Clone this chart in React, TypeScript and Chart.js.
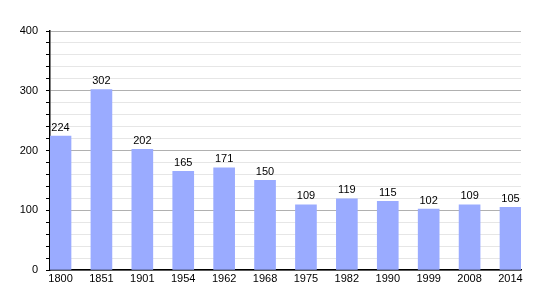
import React, { useEffect, useRef } from "react";
import { Chart, registerables } from "chart.js";

Chart.register(...registerables);

const years = ["1800", "1851", "1901", "1954", "1962", "1968", "1975", "1982", "1990", "1999", "2008", "2014"];
const population = [224, 302, 202, 165, 171, 150, 109, 119, 115, 102, 109, 105];
const yMax = 400;
const yStep = 20;
const majorStep = 100;

const FONT = "'Liberation Sans', Arial, sans-serif";

const valueLabels = {
  id: "valueLabels",
  afterDatasetsDraw(chart: any) {
    const ctx = chart.ctx;
    const meta = chart.getDatasetMeta(0);
    ctx.save();
    ctx.font = `11px ${FONT}`;
    ctx.fillStyle = "#000";
    ctx.textAlign = "center";
    ctx.textBaseline = "bottom";
    meta.data.forEach((bar: any, i: number) => {
      ctx.fillText(String(population[i]), bar.x, bar.y - 3);
    });
    ctx.restore();
  },
};

export default function App() {
  const ref = useRef<HTMLCanvasElement | null>(null);
  useEffect(() => {
    if (!ref.current) return;
    const half = 0.257;
    const chart = new Chart(ref.current, {
      type: "bar",
      data: {
        datasets: [
          {
            data: population.map((v, i) => ({ x: i, y: v })),
            backgroundColor: "#9aabff",
            borderWidth: 0,
            barThickness: 21,
          },
        ],
      },
      options: {
        animation: false,
        responsive: false,
        maintainAspectRatio: false,
        layout: { padding: { left: 0, right: 29, top: 31, bottom: 0 } },
        plugins: { legend: { display: false }, tooltip: { enabled: false } },
        scales: {
          x: {
            type: "linear",
            offset: false,
            min: -half,
            max: years.length - 1 + half,
            afterBuildTicks(scale: any) {
              scale.ticks = years.map((_, i) => ({ value: i }));
            },
            afterFit(scale: any) {
              scale.height = 30;
            },
            grid: { display: false, drawTicks: false, offset: false },
            border: { display: true, color: "#000", width: 1.5 },
            ticks: {
              autoSkip: false,
              maxRotation: 0,
              padding: 2,
              color: "#000",
              font: { family: FONT, size: 11 },
              callback: (v: any) => years[Math.round(Number(v))] ?? "",
            },
          },
          y: {
            min: 0,
            max: yMax,
            afterFit(scale: any) {
              scale.width = 50;
            },
            grid: {
              color: (c: any) => (c.tick && c.tick.value % majorStep === 0 ? "#b0b0b0" : "#e6e6e6"),
              tickColor: "#000",
              tickLength: 4,
              lineWidth: 1,
            },
            border: { display: true, color: "#000", width: 1.5 },
            ticks: {
              stepSize: yStep,
              maxTicksLimit: 100,
              autoSkip: false,
              padding: 8,
              color: "#000",
              font: { family: FONT, size: 11 },
              callback: (v: any) => (Number(v) % majorStep === 0 ? String(v) : ""),
            },
          },
        },
      },
      plugins: [valueLabels],
    });
    return () => chart.destroy();
  }, []);
  return (
    <div style={{ position: "absolute", left: 0, top: 0, width: 550, height: 300, background: "#fff" }}>
      <canvas ref={ref} width={550} height={300} style={{ width: 550, height: 300 }} />
    </div>
  );
}
